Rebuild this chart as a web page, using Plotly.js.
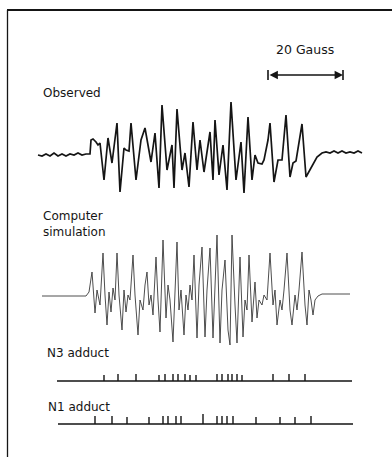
<!DOCTYPE html>
<html>
<head>
<meta charset="utf-8">
<script src="https://cdn.plot.ly/plotly-3.0.1.min.js"></script>
<style>html,body{margin:0;padding:0;background:#fff;}#chart{width:392px;height:457px;}</style>
</head>
<body>
<div id="chart"></div>
<script>
// Field position (chart units; 75 units = 20 Gauss) and relative intensities
const obsX = [38,42,46,50,54,58,62,66,70,74,78,82,86,90,91,93,96,98,100,104,108,112,117,120,124,126,129,131,136,141,145,151,155,159,162,167,172,174,177,182,185,189,193,197,200,204,210,213,215,219,223,227,231,236,241,244,248,252,255,258,262,264,268,270,274,278,282,286,290,293,296,302,306,311,317,322,326,330,334,338,342,346,350,354,358,362];
const obsY = [0,-1,1,-1,2,-1,1,-1,1,0,2,0,1,1,15,16,13,10,12,-25,17,-8,32,-37,7,5,4,32,-25,15,27,-7,22,-33,50,-15,10,-33,46,-15,2,-32,33,-15,15,-17,23,-25,35,-20,10,-35,53,-25,13,-38,38,-25,0,-8,-9,-5,15,32,-27,-5,-5,40,-22,-8,-6,31,-22,-13,-2,2,3,2,4,2,4,2,3,2,4,2];

const simX = [42,86,89,92,95,97,100,103,105,107,109,111,113,115,117,119,122,124,126,128,130,133,135,138,140,143,145,147,149,151,153,156,158,160,163,166,168,170,173,175,177,179,181,184,186,188,190,192,194,197,199,202,205,207,210,213,215,217,220,222,225,228,230,232,235,237,240,243,245,247,249,252,255,257,259,262,264,267,270,273,275,277,280,282,284,287,290,292,295,297,299,302,305,307,309,311,313,315,318,322,350];
const simY = [0,0,4,24,-17,6,-9,43,1,-29,4,-16,8,-4,43,1,-34,6,-16,1,-4,41,1,-39,-4,-14,11,24,-9,1,-19,39,-4,-36,56,-22,11,-4,-46,6,54,-14,6,-39,1,-14,11,-4,41,-42,11,49,-41,6,48,-42,11,61,-47,6,36,-34,-49,61,-9,-47,39,-41,-4,-14,41,-26,14,-22,-4,-9,1,-4,43,-9,6,-29,-4,-14,6,43,-14,-29,1,-14,6,44,-9,-29,6,-4,-19,-4,0,2,2];

const n3Pos = [104,118,136,159,165,173,178,185,190,196,217,222,228,232,237,242,273,289,305];
const n3Amp = [6,7,7,6,7,7,7,7,6,6,7,7,7,7,7,6,7,7,7];
const n3Range = [57,352];

const n1Pos = [95,112,127,149,163,168,176,181,203,217,222,227,233,256,280,295,311];
const n1Amp = [8,8,7,7,8,8,8,8,10,8,8,8,8,7,7,7,8];
const n1Range = [58,353];

const scaleStart = 268, scaleLen = 75; // 75 units = 20 Gauss

function stickPath(pos, amp, range) {
  const x = [range[0]], y = [0];
  pos.forEach((p, i) => { x.push(p, p, p); y.push(0, amp[i], 0); });
  x.push(range[1]); y.push(0);
  return {x, y};
}
const n3 = stickPath(n3Pos, n3Amp, n3Range);
const n1 = stickPath(n1Pos, n1Amp, n1Range);

const H = 457;
const py = v => 1 - v / H;
const ink = '#151515';

const traces = [
  {x: obsX, y: obsY, mode: 'lines', line: {color: ink, width: 1.7}, yaxis: 'y', hoverinfo: 'skip'},
  {x: simX, y: simY, mode: 'lines', line: {color: '#3a3a3a', width: 0.9}, yaxis: 'y2', hoverinfo: 'skip'},
  {x: n3.x, y: n3.y, mode: 'lines', line: {color: ink, width: 1.4}, yaxis: 'y3', hoverinfo: 'skip'},
  {x: n1.x, y: n1.y, mode: 'lines', line: {color: ink, width: 1.4}, yaxis: 'y4', hoverinfo: 'skip'}
];

const hidden = {visible: false, showgrid: false, zeroline: false, fixedrange: true};
const font = {family: 'DejaVu Sans, sans-serif', size: 12, color: ink};
function label(text, x, yPix) {
  return {text, x, y: py(yPix), xref: 'x', yref: 'paper', xanchor: 'left', yanchor: 'middle', align: 'left', showarrow: false, font};
}

const layout = {
  width: 392, height: 457,
  margin: {l: 0, r: 0, t: 0, b: 0},
  paper_bgcolor: '#fff', plot_bgcolor: 'rgba(0,0,0,0)',
  showlegend: false,
  xaxis: Object.assign({range: [0, 392]}, hidden),
  yaxis: Object.assign({range: [-50, 60], domain: [(H-205)/H, (H-95)/H]}, hidden),
  yaxis2: Object.assign({range: [-55, 65], domain: [(H-351)/H, (H-231)/H]}, hidden),
  yaxis3: Object.assign({range: [-10, 10], domain: [(H-391)/H, (H-371)/H]}, hidden),
  yaxis4: Object.assign({range: [-10, 10], domain: [(H-434)/H, (H-414)/H]}, hidden),
  shapes: [
    {type: 'line', xref: 'x', yref: 'paper', x0: 7, x1: 392, y0: py(10), y1: py(10), line: {color: ink, width: 1.8}},
    {type: 'line', xref: 'x', yref: 'paper', x0: 7.5, x1: 7.5, y0: 0, y1: py(10), line: {color: ink, width: 1.3}},
    {type: 'line', xref: 'x', yref: 'paper', x0: scaleStart, x1: scaleStart, y0: py(70), y1: py(80), line: {color: ink, width: 1.6}},
    {type: 'line', xref: 'x', yref: 'paper', x0: scaleStart + scaleLen, x1: scaleStart + scaleLen, y0: py(70), y1: py(80), line: {color: ink, width: 1.6}}
  ],
  annotations: [
    {x: scaleStart + scaleLen, y: py(75), xref: 'x', yref: 'paper', ax: scaleStart, ay: py(75), axref: 'x', ayref: 'paper',
     showarrow: true, arrowside: 'end+start', arrowhead: 2, arrowsize: 1.2, arrowwidth: 1.4, arrowcolor: ink, standoff: 0, startstandoff: 0, text: ''},
    Object.assign(label('20 Gauss', 305, 49), {xanchor: 'center', font: Object.assign({}, font, {size: 12.5})}),
    label('Observed', 41, 93),
    label('Computer<br>simulation', 41, 224),
    label('N3 adduct', 45, 353),
    label('N1 adduct', 46, 407)
  ]
};

Plotly.newPlot('chart', traces, layout, {staticPlot: true, displayModeBar: false});
</script>
</body>
</html>
